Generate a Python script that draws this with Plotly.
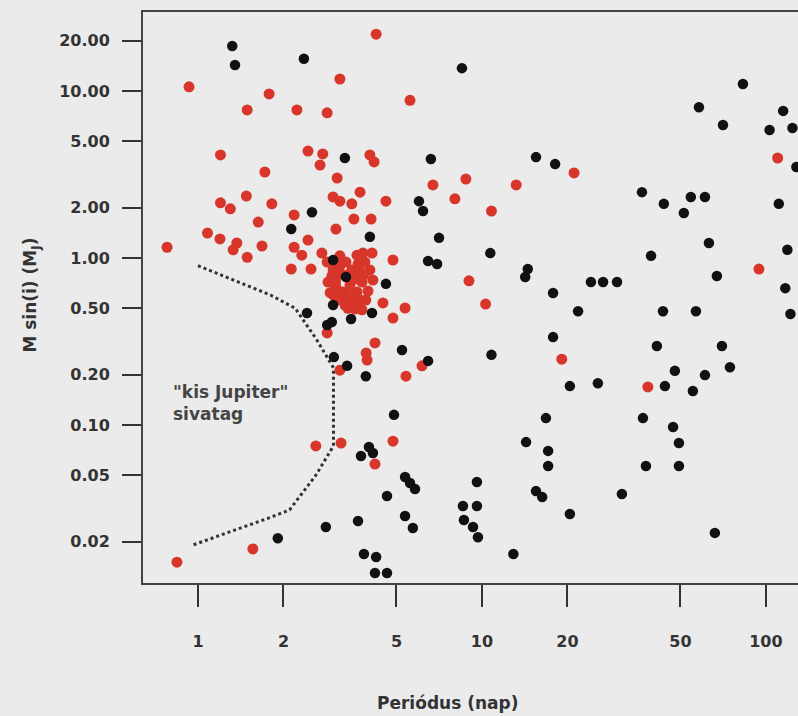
import plotly.graph_objects as go

# Planets with measured radius (red) and radial-velocity-only detections (black)
red_period = [4.24, 0.93, 1.78, 3.16, 1.49, 2.23, 2.85, 5.58, 1.2, 2.44, 2.75, 2.69,
              4.03, 4.17, 1.72, 3.09, 6.72, 8.78, 13.2, 21.1, 1.48, 1.2, 1.30, 1.82,
              2.99, 3.16, 3.72, 3.48, 4.59, 8.03, 10.8, 2.18, 1.63, 3.06, 3.54, 4.07,
              1.08, 1.195, 1.37, 1.33, 1.68, 1.49, 0.778, 2.18, 2.44, 2.32, 2.73, 3.81,
              4.10, 4.86, 2.13, 2.50, 9.0, 10.3, 4.48, 5.36, 4.86, 2.85, 4.20, 3.91,
              3.94, 3.16, 5.40, 6.15, 19.1, 38.4, 2.60, 3.19, 4.86, 4.20, 1.56, 0.843,
              110, 94.5,
              2.85, 2.99, 3.16, 3.32, 3.48, 3.66, 3.87, 4.03, 2.87, 3.06, 3.24, 3.43,
              3.63, 3.78, 3.97, 3.29, 3.48, 3.72, 3.57, 3.11, 2.96, 3.84, 4.13, 2.92,
              3.37, 3.6, 3.9, 3.37, 3.78, 3.16, 3.63,
              3.0, 3.4, 3.5, 3.2, 3.7, 3.3, 3.55, 3.05]
red_mass = [21.9, 10.6, 9.6, 11.8, 7.7, 7.7, 7.4, 8.8, 4.14, 4.37, 4.2, 3.6,
            4.14, 3.76, 3.27, 3.01, 2.74, 2.97, 2.74, 3.23, 2.35, 2.14, 1.97, 2.11,
            2.32, 2.19, 2.48, 2.11, 2.19, 2.26, 1.91, 1.81, 1.64, 1.49, 1.71, 1.71,
            1.41, 1.30, 1.23, 1.12, 1.18, 1.01, 1.16, 1.16, 1.28, 1.04, 1.07, 1.07,
            1.07, 0.973, 0.859, 0.859, 0.73, 0.53, 0.538, 0.502, 0.437, 0.356, 0.31, 0.27,
            0.245, 0.213, 0.196, 0.226, 0.248, 0.169, 0.0749, 0.078, 0.080, 0.0584, 0.0181, 0.0151,
            3.97, 0.859,
            0.946, 0.848, 0.895, 0.946, 0.848, 0.92, 0.946, 0.848, 0.718, 0.67, 0.626, 0.69,
            0.626, 0.718, 0.634, 0.568, 0.538, 0.561, 0.495, 0.561, 0.78, 0.79, 0.738, 0.62,
            0.79, 0.75, 0.56, 0.50, 0.49, 1.03, 1.04,
            0.6, 0.6, 0.75, 0.8, 0.85, 0.52, 0.58, 0.72]

black_period = [1.32, 1.35, 2.36, 8.5, 3.29, 6.61, 15.5, 18.1, 83, 58.1, 70.6, 115,
                103, 124, 128, 6.0, 6.2, 2.52, 2.13, 36.6, 43.7, 54.4, 61, 51.4,
                111, 4.03, 7.06, 10.7, 63, 119, 39.4, 2.99, 6.46, 6.95, 14.5, 14.2,
                24.2, 26.7, 29.9, 67.2, 117, 17.8, 3.32, 4.59, 21.8, 43.4, 56.7, 122,
                2.42, 2.99, 3.46, 4.10, 2.85, 2.96, 17.8, 10.8, 41.3, 70, 47.8, 74.7,
                61, 44.1, 55.3, 20.4, 25.6, 5.23, 6.46, 3.01, 3.35, 3.9, 4.9, 16.8,
                36.9, 47.1, 14.3, 17.1, 17.1, 49.4, 37.8, 49.4, 4.0, 3.75, 4.13, 5.36,
                5.58, 5.81, 4.63, 9.6, 15.5, 16.3, 31.1, 8.57, 9.6, 8.64, 9.3, 9.68,
                20.4, 66.1, 12.9, 5.36, 5.71, 3.66, 2.82, 1.91, 3.84, 4.24, 4.2, 4.63]
black_mass = [18.6, 14.3, 15.6, 13.7, 3.97, 3.92, 4.02, 3.65, 11.0, 8.0, 6.26, 7.6,
              5.84, 6.0, 3.51, 2.19, 1.91, 1.88, 1.49, 2.48, 2.11, 2.32, 2.32, 1.86,
              2.11, 1.34, 1.32, 1.07, 1.23, 1.12, 1.03, 0.973, 0.96, 0.92, 0.86, 0.77,
              0.718, 0.718, 0.718, 0.78, 0.66, 0.617, 0.77, 0.70, 0.48, 0.48, 0.48, 0.462,
              0.469, 0.523, 0.431, 0.469, 0.397, 0.414, 0.336, 0.263, 0.297, 0.297, 0.211, 0.222,
              0.199, 0.171, 0.16, 0.171, 0.178, 0.281, 0.242, 0.255, 0.226, 0.196, 0.115, 0.110,
              0.110, 0.0973, 0.079, 0.07, 0.0568, 0.078, 0.0568, 0.0568, 0.0738, 0.0652, 0.068, 0.0488,
              0.045, 0.0414, 0.0376, 0.0456, 0.0402, 0.037, 0.0386, 0.0327, 0.0327, 0.027, 0.0245, 0.0213,
              0.0293, 0.0226, 0.0169, 0.0285, 0.0242, 0.0266, 0.0245, 0.021, 0.0169, 0.0162, 0.013, 0.013]

# Outline of the "sub-Jupiter desert"
desert_period = [1.0, 1.8, 2.2, 2.6, 3.0, 3.0, 2.6, 2.1, 1.8, 0.95]
desert_mass = [0.9, 0.6, 0.5, 0.33, 0.22, 0.075, 0.05, 0.031, 0.028, 0.019]

x_ticks = [1, 2, 5, 10, 20, 50, 100]
x_tick_labels = ["1", "2", "5", "10", "20", "50", "100"]
y_ticks = [0.02, 0.05, 0.1, 0.2, 0.5, 1, 2, 5, 10, 20]
y_tick_labels = ["0.02", "0.05", "0.10", "0.20", "0.50", "1.00", "2.00", "5.00", "10.00", "20.00"]

BG = "#ebebeb"
INK = "#333333"
FONT = "DejaVu Sans"

fig = go.Figure()
fig.add_trace(go.Scatter(
    x=desert_period, y=desert_mass, mode="lines",
    line=dict(color=INK, width=3, dash="dot"), hoverinfo="skip"))
fig.add_trace(go.Scatter(
    x=red_period, y=red_mass, mode="markers",
    marker=dict(color="#d8352b", size=11, line=dict(width=0))))
fig.add_trace(go.Scatter(
    x=black_period, y=black_mass, mode="markers",
    marker=dict(color="#111111", size=10.5, line=dict(width=0))))

fig.update_layout(
    width=798, height=716,
    margin=dict(l=143, r=0, t=12, b=133),
    paper_bgcolor=BG, plot_bgcolor=BG,
    showlegend=False,
    font=dict(family=FONT, color=INK, size=16, weight="bold"),
    xaxis=dict(
        type="log", range=[-0.1937, 2.113],
        tickvals=x_ticks, ticktext=x_tick_labels,
        showgrid=False, zeroline=False,
        showline=True, linecolor="#444444", linewidth=2, mirror=True,
        ticks="outside", ticklen=22, tickwidth=2, tickcolor=INK,
        ticklabelstandoff=21,
        tickfont=dict(family=FONT, size=16, color=INK, weight="bold")),
    yaxis=dict(
        type="log", range=[-1.946, 1.473],
        tickvals=y_ticks, ticktext=y_tick_labels,
        showgrid=False, zeroline=False,
        showline=True, linecolor="#444444", linewidth=2, mirror=False,
        ticks="outside", ticklen=19, tickwidth=2, tickcolor=INK,
        ticklabelstandoff=9,
        tickfont=dict(family=FONT, size=16, color=INK, weight="bold")),
    annotations=[
        dict(text="Periódus (nap)", xref="paper", yref="paper",
             x=0.4656, y=-0.21, xanchor="center", yanchor="middle",
             showarrow=False, font=dict(family=FONT, size=17, color=INK, weight="bold")),
        dict(text="M sin(i) (M<sub>J</sub>)", xref="paper", yref="paper",
             x=-0.1695, y=0.505, xanchor="center", yanchor="middle", textangle=-90,
             showarrow=False, font=dict(family=FONT, size=17, color=INK, weight="bold")),
        dict(text="\"kis Jupiter\"<br>sivatag", xref="paper", yref="paper",
             x=0.042, y=0.355, xanchor="left", yanchor="top", align="left",
             showarrow=False, font=dict(family=FONT, size=17, color="#444444", weight="bold")),
    ],
)

fig.write_html("out.html")
